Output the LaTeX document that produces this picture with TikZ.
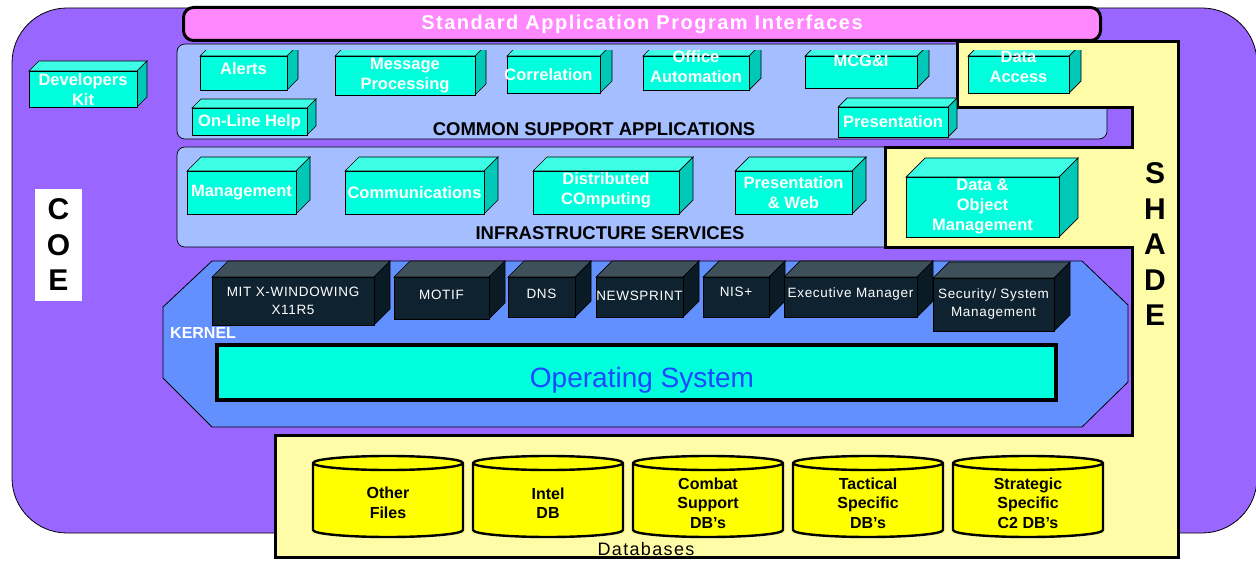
\documentclass[tikz,border=0pt]{standalone}
\usepackage{fontspec}
\setmainfont{Liberation Sans}
\newfontfamily\spacedfont[LetterSpace=7.5]{Liberation Sans}
\newfontfamily\kernfont[LetterSpace=5]{Liberation Sans}

\definecolor{coepurple}{HTML}{9966FF}
\definecolor{apipink}{HTML}{FF88FF}
\definecolor{panelblue}{HTML}{A4BEFF}
\definecolor{kernelblue}{HTML}{6290FF}
\definecolor{shadeyellow}{HTML}{FFFCA8}
\definecolor{dbyellow}{HTML}{FFFF00}
\definecolor{cyanface}{HTML}{00FFDD}
\definecolor{cyanlight}{HTML}{3CFFE6}
\definecolor{cyandeep}{HTML}{00C8B6}
\definecolor{darkface}{HTML}{0E2230}
\definecolor{darklight}{HTML}{3E505A}
\definecolor{darkdeep}{HTML}{0B1B25}
\definecolor{osblue}{HTML}{1E48FF}

\tikzset{
  panel/.style={draw=black, line width=0.7pt, fill=panelblue, rounded corners=8pt},
  cyantop/.style={draw=black, line width=0.7pt, fill=cyanlight},
  cyanside/.style={draw=black, line width=0.7pt, fill=cyandeep},
  cyanfront/.style={draw=black, line width=0.9pt, fill=cyanface},
  cyantext/.style={text=white, font=\bfseries\fontsize{16.5}{20}\selectfont, align=center, inner sep=0pt},
  darktop/.style={draw=black, line width=0.7pt, fill=darklight},
  darkside/.style={draw=black, line width=0.7pt, fill=darkdeep},
  darkfront/.style={draw=black, line width=0.9pt, fill=darkface},
  darktext/.style={text=white, font=\kernfont\fontsize{13.5}{18}\selectfont, align=center, inner sep=0pt},
  layerlabel/.style={font=\bfseries\fontsize{18.5}{20}\selectfont, inner sep=0pt},
  bigletters/.style={font=\bfseries\fontsize{30}{35.5}\selectfont, align=center, inner sep=0pt},
  dbcyl/.style={draw=black, line width=2.4pt, fill=dbyellow},
  dbtext/.style={font=\bfseries\fontsize{16}{19.5}\selectfont, align=center, inner sep=0pt},
}

% 3-d box: name, kind, x1, y1, x2, y2, depth, text options, text
\newcommand{\cuboid}[9]{%
  \filldraw[#2top] (#3,#4) -- ++(#7,-#7) -- (#5+#7,#4-#7) -- (#5,#4) -- cycle;
  \filldraw[#2side] (#5,#4) -- (#5+#7,#4-#7) -- (#5+#7,#6-#7) -- (#5,#6) -- cycle;
  \filldraw[#2front] (#3,#4) rectangle (#5,#6);
  \node[#2text,#8] (#1) at ({(#3+#5)/2},{(#4+#6)/2}) {#9};
}

\begin{document}
\begin{tikzpicture}[x=1pt, y=-1pt]
  \useasboundingbox (0,0) rectangle (1256,561);

  % COE area
  \draw[fill=coepurple, line width=0.8pt, rounded corners=55pt] (12,8) rectangle (1257,533);
  \node[fill=white, minimum width=47pt, minimum height=112pt, bigletters] (coe) at (58.5,245) {C\\O\\E};

  % layers
  \draw[panel] (177,44) rectangle (1107,139);
  \draw[panel] (177,147) rectangle (895,247);
  \draw[fill=kernelblue, line width=0.8pt] (212,261) -- (1082,261) -- (1128,305) -- (1128,382)
    -- (1082,427) -- (212,427) -- (163,378) -- (163,307) -- cycle;

  % SHADE area
  \draw[fill=shadeyellow, line width=3pt] (957,42) -- (1178,42) -- (1178,557) -- (275,557)
    -- (275,435) -- (1132,435) -- (1132,248) -- (885,248) -- (885,148) -- (1132,148)
    -- (1132,108) -- (957,108) -- cycle;
  \node[bigletters] (shade) at (1155,244.5) {S\\H\\A\\D\\E};

  \node[draw=black, line width=3pt, fill=apipink, rounded corners=10pt, minimum width=917pt,
    minimum height=33pt, text=white, font=\spacedfont\bfseries\fontsize{20}{22}\selectfont]
    (api) at (642,24) {Standard Application Program Interfaces};

  \cuboid{devkit}{cyan}{29}{71}{137}{107}{10}{yshift=-1pt}{Developers\\Kit}

  % common support applications
  \begin{scope}
    \clip (150,51) rectangle (1100,100);
    \cuboid{alerts}{cyan}{200}{56}{287}{90}{11}{yshift=4pt}{Alerts}
    \cuboid{msgproc}{cyan}{335}{56}{475}{95}{11}{}{Message\\Processing}
    \cuboid{correl}{cyan}{507}{56}{600}{93}{12}{xshift=-5pt}{Correlation}
    \cuboid{office}{cyan}{643}{56}{749}{90}{12}{yshift=6pt}{Office\\Automation}
    \cuboid{mcgi}{cyan}{805}{56}{917}{88}{12}{yshift=11pt}{MCG\&I}
    \cuboid{dataacc}{cyan}{968}{56}{1069}{93}{12}{yshift=8pt}{Data\\Access}
  \end{scope}
  \cuboid{online}{cyan}{192}{108}{307}{135}{9}{yshift=-1pt}{On-Line Help}
  \cuboid{prescsa}{cyan}{838}{107}{948}{137}{9}{}{Presentation}
  \node[layerlabel] (csa) at (594,129) {COMMON SUPPORT APPLICATIONS};

  % infrastructure services
  \cuboid{mgmt}{cyan}{187}{171}{296}{214}{14}{}{Management}
  \cuboid{comms}{cyan}{345}{171}{484}{214}{14}{}{Communications}
  \cuboid{distcomp}{cyan}{533}{171}{679}{214}{14}{yshift=2pt}{Distributed\\COmputing}
  \cuboid{presweb}{cyan}{735}{171}{852}{214}{14}{}{Presentation\\\& Web}
  \cuboid{dataobj}{cyan}{906}{177}{1059}{237}{19}{}{Data \&\\Object\\Management}
  \node[layerlabel] (infra) at (610,233) {INFRASTRUCTURE SERVICES};

  % kernel
  \cuboid{xwin}{dark}{212}{277}{374}{325}{16}{}{MIT X-WINDOWING\\X11R5}
  \cuboid{motif}{dark}{394}{277}{489}{319}{16}{yshift=3pt}{MOTIF}
  \cuboid{dns}{dark}{508}{277}{575}{317}{16}{yshift=3pt}{DNS}
  \cuboid{newsprint}{dark}{596}{277}{683}{317}{16}{yshift=1pt}{NEWSPRINT}
  \cuboid{nis}{dark}{703}{277}{769}{317}{16}{yshift=5pt}{NIS+}
  \cuboid{execmgr}{dark}{784}{277}{917}{317}{16}{yshift=3pt}{Executive Manager}
  \cuboid{secsys}{dark}{933}{278}{1054}{331}{16}{}{Security/ System\\Management}
  \node[anchor=west, text=white, font=\bfseries\fontsize{16}{18}\selectfont, inner sep=0pt]
    (kernel) at (170,333) {KERNEL};
  \draw[fill=cyanface, line width=4pt] (217,345) rectangle (1056,400);
  \node[anchor=base, text=osblue, font=\fontsize{28}{30}\selectfont, inner sep=0pt]
    (os) at (642,387) {Operating System};

  % databases
  \foreach \x/\nm/\txt in {313/other/{Other\\Files}, 473/intel/{Intel\\DB},
      633/combat/{Combat\\Support\\DB's}, 793/tactical/{Tactical\\Specific\\DB's},
      953/strategic/{Strategic\\Specific\\C2 DB's}} {
    \filldraw[dbcyl] (\x,463) -- (\x,530) arc[start angle=180, end angle=0, x radius=75, y radius=7]
      -- (\x+150,463) arc[start angle=0, end angle=-180, x radius=75, y radius=7] -- cycle;
    \draw[dbcyl, fill=none] (\x,463) arc[start angle=180, end angle=0, x radius=75, y radius=7];
    \node[dbtext] (\nm) at (\x+75,503) {\txt};
  }
  \node[font=\spacedfont\fontsize{18}{20}\selectfont, inner sep=0pt] (dblabel) at (646,549) {Databases};
\end{tikzpicture}
\end{document}
